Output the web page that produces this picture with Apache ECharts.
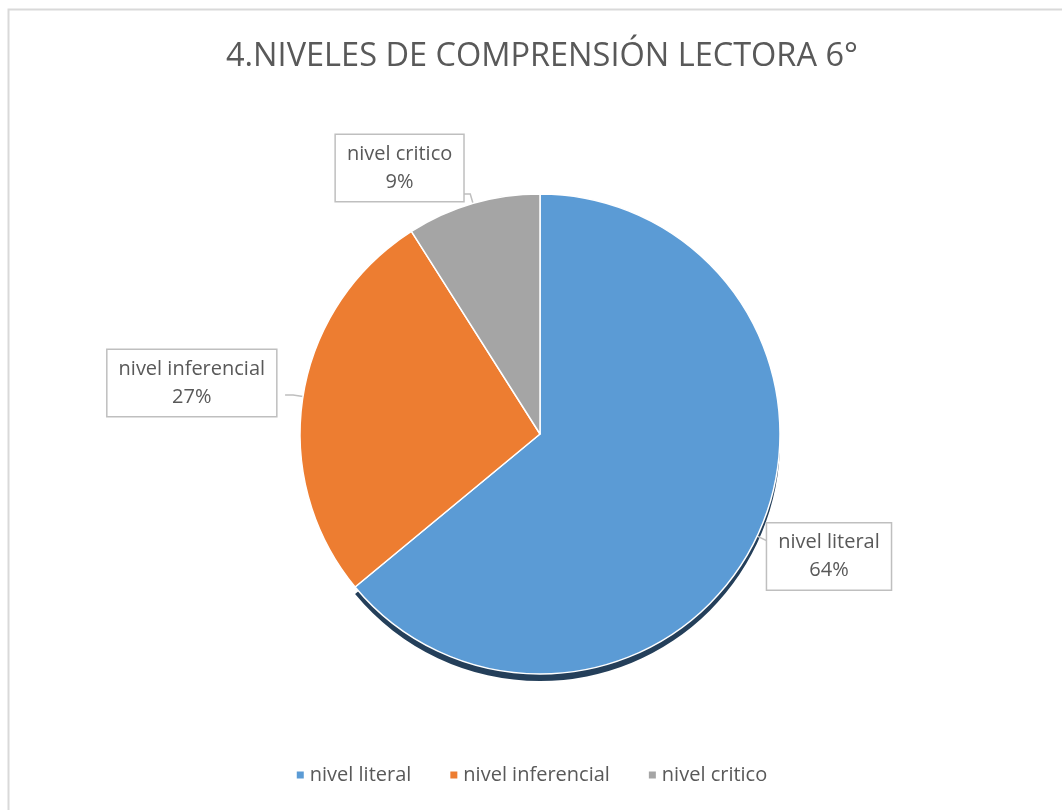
<!DOCTYPE html>
<html>
<head>
<meta charset="utf-8">
<script src="https://cdn.jsdelivr.net/npm/echarts@6/dist/echarts.min.js"></script>
<style>
    html, body { margin: 0; padding: 0; background: #fff; }
    #chart { width: 1062px; height: 810px; }
</style>
</head>
<body>
<div id="chart"></div>
<script>
const chartTitle = '4.NIVELES DE COMPRENSIÓN LECTORA 6°'
const categories = ['nivel literal', 'nivel inferencial', 'nivel critico']
const values = [64, 27, 9]
const colors = ['#5b9bd5', '#ed7d31', '#a5a5a5']

const chartInstance = echarts.init(document.getElementById('chart'))

const seriesData = categories.map((name, i) => {
    return { name: name, value: values[i], itemStyle: { color: colors[i] } }
})
// sombra: mismo pastel desplazado hacia abajo, solo visible bajo el sector azul
const shadowData = categories.map((name, i) => {
    return { name: 'sombra ' + i, value: values[i], itemStyle: { color: i === 0 ? '#243f5a' : 'rgba(0,0,0,0)' } }
})

const labelShift = [
    { dx: -12, dy: 16 },
    { dx: -4, dy: -12 },
    { dx: 6, dy: -26 }
]

const option = {
    textStyle: { fontFamily: 'Open Sans' },
    title: {
        text: chartTitle,
        left: 221,
        top: 35,
        textStyle: { fontSize: 32.5, fontWeight: 'normal', color: '#595959', fontFamily: 'Open Sans' }
    },
    legend: {
        bottom: 20,
        left: 'center',
        icon: 'rect',
        itemWidth: 9,
        itemHeight: 9,
        itemGap: 37,
        data: categories,
        textStyle: { fontSize: 20, color: '#595959' }
    },
    graphic: [{
        type: 'rect',
        left: 6,
        top: 7,
        shape: { width: 1070, height: 820 },
        style: { fill: 'none', stroke: '#d9d9d9', lineWidth: 2 },
        silent: true
    }],
    series: [
        {
            type: 'pie',
            name: 'sombra',
            radius: 240,
            center: [540, 441],
            startAngle: 90,
            clockwise: true,
            animation: false,
            silent: true,
            z: 1,
            label: { show: false },
            labelLine: { show: false },
            itemStyle: { borderWidth: 0 },
            data: shadowData
        },
        {
            type: 'pie',
            radius: 240,
            center: [540, 434],
            startAngle: 90,
            clockwise: true,
            animation: false,
            legendHoverLink: false,
            z: 2,
            itemStyle: { borderColor: '#ffffff', borderWidth: 1.5 },
            label: {
                show: true,
                position: 'outside',
                formatter: '{t|{b}}\n{t|{d}%}',
                backgroundColor: '#ffffff',
                borderColor: '#bfbfbf',
                borderWidth: 1.5,
                padding: [5, 11, 5, 11],
                rich: {
                    t: { color: '#595959', fontSize: 20, lineHeight: 28, align: 'center', fontFamily: 'Open Sans' }
                }
            },
            labelLine: {
                show: true,
                length: 10,
                length2: 8,
                lineStyle: { color: '#bfbfbf', width: 1.5 }
            },
            labelLayout: function (params) {
                return labelShift[params.dataIndex]
            },
            data: seriesData
        }
    ]
}

chartInstance.setOption(option)
</script>
</body>
</html>
